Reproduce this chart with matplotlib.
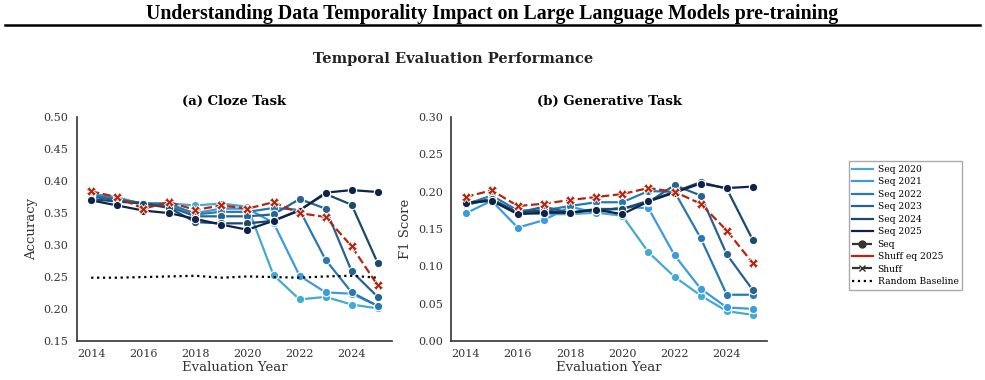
import numpy as np
import matplotlib
matplotlib.use("Agg")
import matplotlib.pyplot as plt
from matplotlib.lines import Line2D

# evaluation years
years = list(range(2014, 2026))

# Cloze task accuracy, one list per training cutoff
cloze_2020 = [0.378, 0.373, 0.365, 0.365, 0.362, 0.365, 0.360, 0.253, 0.215, 0.219, 0.207, 0.201]
cloze_2021 = [0.380, 0.375, 0.363, 0.362, 0.350, 0.357, 0.357, 0.335, 0.252, 0.226, 0.224, 0.205]
cloze_2022 = [0.378, 0.372, 0.365, 0.365, 0.348, 0.352, 0.352, 0.358, 0.355, 0.277, 0.226, 0.205]
cloze_2023 = [0.376, 0.370, 0.366, 0.360, 0.345, 0.345, 0.345, 0.348, 0.372, 0.357, 0.259, 0.219]
cloze_2024 = [0.372, 0.368, 0.365, 0.358, 0.336, 0.334, 0.334, 0.338, 0.355, 0.380, 0.363, 0.272]
cloze_2025 = [0.370, 0.362, 0.354, 0.350, 0.341, 0.332, 0.324, 0.338, 0.354, 0.382, 0.386, 0.383]
cloze_shuff = [0.384, 0.375, 0.357, 0.367, 0.355, 0.362, 0.357, 0.367, 0.350, 0.344, 0.298, 0.237]
cloze_random = [0.249, 0.249, 0.250, 0.251, 0.252, 0.249, 0.251, 0.250, 0.249, 0.251, 0.252, 0.249]

# Generative task F1
gen_2020 = [0.182, 0.190, 0.172, 0.170, 0.170, 0.172, 0.168, 0.119, 0.086, 0.061, 0.040, 0.035]
gen_2021 = [0.171, 0.188, 0.152, 0.162, 0.180, 0.172, 0.180, 0.178, 0.115, 0.070, 0.045, 0.043]
gen_2022 = [0.183, 0.195, 0.175, 0.175, 0.181, 0.186, 0.186, 0.201, 0.200, 0.138, 0.062, 0.062]
gen_2023 = [0.185, 0.190, 0.172, 0.180, 0.172, 0.177, 0.177, 0.186, 0.209, 0.195, 0.116, 0.068]
gen_2024 = [0.183, 0.190, 0.172, 0.175, 0.172, 0.176, 0.177, 0.188, 0.200, 0.213, 0.204, 0.135]
gen_2025 = [0.185, 0.188, 0.170, 0.172, 0.172, 0.176, 0.170, 0.187, 0.199, 0.211, 0.205, 0.207]
gen_shuff = [0.193, 0.202, 0.181, 0.184, 0.189, 0.193, 0.197, 0.205, 0.200, 0.184, 0.148, 0.104]

seq_labels = ["Seq 2020", "Seq 2021", "Seq 2022", "Seq 2023", "Seq 2024", "Seq 2025"]
seq_colors = ["#45aad0", "#3c9be0", "#2a78b2", "#276390", "#1c4a6b", "#0f2349"]
shuff_color = "#b0280f"

cloze_seq = [cloze_2020, cloze_2021, cloze_2022, cloze_2023, cloze_2024, cloze_2025]
gen_seq = [gen_2020, gen_2021, gen_2022, gen_2023, gen_2024, gen_2025]

plt.rcParams['font.family'] = ['DejaVu Serif']

fig = plt.figure(figsize=(9.85, 3.8), dpi=100)
ax1 = fig.add_axes([0.078, 0.1026, 0.320, 0.589])
ax2 = fig.add_axes([0.458, 0.1026, 0.321, 0.589])


def draw(ax, seqs, shuff):
    for vals, c in zip(seqs, seq_colors):
        ax.plot(years, vals, color=c, lw=1.6, marker='o', ms=6,
                mec='white', mew=0.8)
    ax.plot(years, shuff, color=shuff_color, lw=1.6, ls='--', marker='X',
            ms=6.5, mec='white', mew=0.6)


draw(ax1, cloze_seq, cloze_shuff)
ax1.plot(years, cloze_random, color='black', lw=1.6, ls=':')
draw(ax2, gen_seq, gen_shuff)

for ax in (ax1, ax2):
    ax.spines['top'].set_visible(False)
    ax.spines['right'].set_visible(False)
    for s in ('left', 'bottom'):
        ax.spines[s].set_color('#333333')
        ax.spines[s].set_linewidth(1.2)
    ax.set_xticks([2014, 2016, 2018, 2020, 2022, 2024])
    ax.tick_params(labelsize=8, colors='#333333', length=0, pad=6)
    ax.set_xlabel("Evaluation Year", fontsize=9.5, color='#333333', labelpad=1)

ax1.set_ylim(0.15, 0.50)
ax1.set_yticks(np.arange(0.15, 0.501, 0.05))
ax1.yaxis.set_major_formatter(matplotlib.ticker.FormatStrFormatter('%.2f'))
ax1.set_ylabel("Accuracy", fontsize=9.5, color='#333333')
ax1.set_title("(a) Cloze Task", fontsize=9.5, fontweight='bold', pad=9)

ax2.set_ylim(0.0, 0.30)
ax2.set_yticks(np.arange(0.0, 0.301, 0.05))
ax2.yaxis.set_major_formatter(matplotlib.ticker.FormatStrFormatter('%.2f'))
ax2.set_ylabel("F1 Score", fontsize=9.5, color='#333333')
ax2.set_title("(b) Generative Task", fontsize=9.5, fontweight='bold', pad=9)

# legend
handles = [Line2D([], [], color=c, lw=1.6) for c in seq_colors]
handles.append(Line2D([], [], color='#333333', lw=1.6, ls='--', marker='o', ms=5))
handles.append(Line2D([], [], color=shuff_color, lw=1.6))
handles.append(Line2D([], [], color='#333333', lw=1.6, ls='--', marker='x', ms=4))
handles.append(Line2D([], [], color='black', lw=1.6, ls=':'))
labels = seq_labels + ["Seq", "Shuff eq 2025", "Shuff", "Random Baseline"]
fig.legend(handles, labels, loc='upper left', bbox_to_anchor=(0.857, 0.588),
           fontsize=6.6, frameon=True, fancybox=False, edgecolor='#aaaaaa',
           handlelength=2.2, handletextpad=0.55, borderpad=0.4,
           labelspacing=0.38, framealpha=1)

fig.text(0.5, 0.963, "Understanding Data Temporality Impact on Large Language Models pre-training",
         ha='center', va='center', fontsize=14.3, fontweight='bold',
         family='Liberation Serif')
fig.add_artist(Line2D([0.005, 0.995], [0.933, 0.933], color='black', lw=1.8))
fig.text(0.46, 0.845, "Temporal Evaluation Performance", ha='center', va='center',
         fontsize=10.5, fontweight='bold', color='#222222')

fig.savefig("out.png", dpi=100)
